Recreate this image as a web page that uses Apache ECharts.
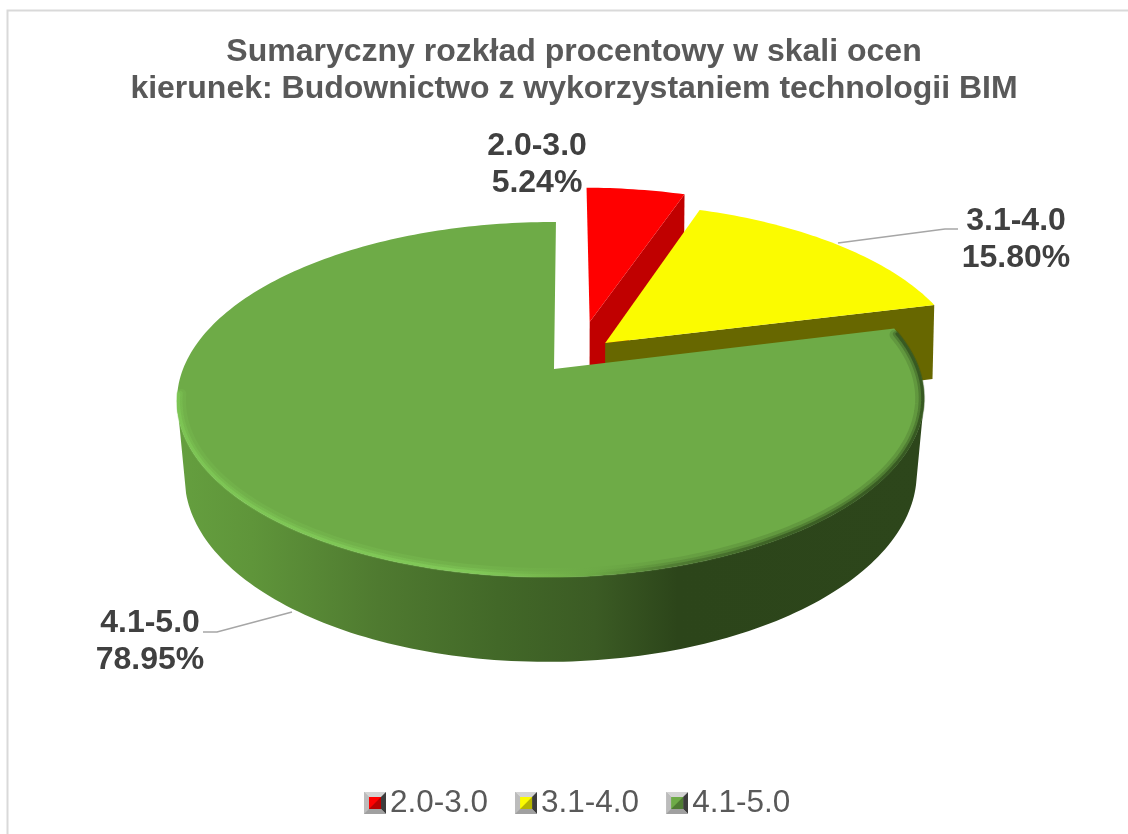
<!DOCTYPE html>
<html>
<head>
<meta charset="utf-8">
<script src="https://cdn.jsdelivr.net/npm/echarts@6/dist/echarts.min.js"></script>
<style>
  html, body { margin: 0; padding: 0; background: #fff; overflow: hidden; }
  #chart { width: 1128px; height: 834px; }
</style>
</head>
<body>
<div id="chart"></div>
<script>
var categories = ['2.0-3.0', '3.1-4.0', '4.1-5.0'];
var percents = [5.24, 15.80, 78.95];
var topColors = ['#ff0000', '#fbfb00', '#6eab47'];
var wallColors = ['#c00000', '#676700', '#4f7a30'];
var titleLines = ['Sumaryczny rozkład procentowy w skali ocen', 'kierunek: Budownictwo z wykorzystaniem technologii BIM'];

// perspective of the pie plane, fitted to the picture
var view = { x: 554, y: 369, a: 368, b: 172.3, shear: 2.3, k: 0.172, m: 0.008 };
var depth = [80, 80, 76];
var sink = [0.005, 0.005, 0.02];
// how far each slice is pulled out, in pie radii
var explode = [[0.1, 0.286], [0.142, 0.155], [0, 0]];
var labelPos = [[537, 165], [1016, 240], [150, 642]];
var leaders = [null, [[838, 243], [945, 229], [958, 229]], [[292, 612], [217, 632], [203, 632]]];

var total = percents.reduce(function (a, b) { return a + b; }, 0);

function rad(deg) {
    return deg * Math.PI / 180;
}

function project(i, px, pz, low) {
    var w = 1 + view.k * pz + view.m * px + (low ? sink[i] : 0);
    return [
        view.x + (view.a * px + view.shear * pz) / w,
        view.y + (-view.b * pz + (low ? depth[i] : 0)) / w
    ];
}

function rimPoint(i, ang, low) {
    return project(i, explode[i][0] + Math.sin(ang), explode[i][1] + Math.cos(ang), low);
}

function arcPoints(i, a0, a1, low) {
    var pts = [];
    var n = Math.max(2, Math.ceil(Math.abs(a1 - a0) / 0.02));
    for (var j = 0; j <= n; j++) {
        pts.push(rimPoint(i, a0 + (a1 - a0) * j / n, low));
    }
    return pts;
}

function sliceAngles(i) {
    var before = 0;
    for (var j = 0; j < i; j++) before += percents[j];
    return [before / total * Math.PI * 2, (before + percents[i]) / total * Math.PI * 2];
}

function gradient(stops) {
    return new echarts.graphic.LinearGradient(0, 0, 1, 0, stops.map(function (s) {
        return { offset: s[0], color: s[1] };
    }));
}

// stroke stops for the bevel: bright on the left and front, dark towards the right
var bevelStops = [
    [0, '#7fc956'], [0.4, '#84ce5b'], [0.5, '#76b74c'], [0.56, '#6aa644'],
    [0.66, '#4c7630'], [0.8, '#34541f'], [1, '#2d4a1b']
];
// width, opacity, inset of the layered strokes
var bevelLayers = [[10, 0.2, 4], [6, 0.35, 2.5], [3, 0.7, 1.5]];

function renderSlice(params, api) {
    var i = params.seriesIndex;
    var value = api.value(0);
    var ang = sliceAngles(i);
    var apexTop = project(i, explode[i][0], explode[i][1], false);
    var apexLow = project(i, explode[i][0], explode[i][1], true);
    var arc = arcPoints(i, ang[0], ang[1], false);
    var children = [];

    if (i < 2) {
        // cut wall on the clockwise side of the slice
        children.push({
            type: 'polygon',
            shape: { points: [apexTop, rimPoint(i, ang[1], false), rimPoint(i, ang[1], true), apexLow] },
            style: { fill: wallColors[i] }
        });
    } else {
        // outer wall of the big slice, from one silhouette point to the other
        children.push({
            type: 'polygon',
            shape: { points: arcPoints(i, rad(100), rad(260), false).concat(arcPoints(i, rad(255), rad(103), true)) },
            style: {
                fill: gradient([
                    [0, '#659f3f'], [0.1, '#5f953a'], [0.27, '#4f7a30'], [0.43, '#426828'],
                    [0.56, '#3b5b24'], [0.67, '#2c451a'], [1, '#2d461b']
                ])
            }
        });
    }

    children.push({
        type: 'polygon',
        shape: { points: [apexTop].concat(arc) },
        style: { fill: topColors[i] }
    });

    if (i === 2) {
        // soft bevel along the front of the top face
        bevelLayers.forEach(function (b) {
            var rim = arcPoints(i, ang[0] + 0.03, rad(262), false).map(function (p) {
                return [p[0] + (551 - p[0]) * b[2] / 374, p[1] + (400 - p[1]) * b[2] / 178];
            });
            children.push({
                type: 'polyline',
                shape: { points: rim },
                style: { fill: null, lineWidth: b[0], opacity: b[1], lineCap: 'round', stroke: gradient(bevelStops) }
            });
        });
    }

    if (leaders[i]) {
        children.push({
            type: 'polyline',
            shape: { points: leaders[i] },
            style: { fill: null, stroke: '#a6a6a6', lineWidth: 1.5 }
        });
    }

    children.push({
        type: 'text',
        style: {
            x: labelPos[i][0],
            y: labelPos[i][1],
            text: categories[i] + '\n' + value.toFixed(2) + '%',
            fill: '#404040',
            font: 'bold 32px "Liberation Sans", Arial, sans-serif',
            lineHeight: 37,
            align: 'center',
            verticalAlign: 'middle'
        }
    });

    return { type: 'group', children: children };
}

function legendIcon(color) {
    var svg = '<svg xmlns="http://www.w3.org/2000/svg" width="22" height="22">' +
        '<rect width="22" height="22" fill="#b8b8b8"/>' +
        '<polygon points="0,0 22,0 17,5 5,5" fill="#d4d4d4"/>' +
        '<polygon points="0,0 5,5 5,17 0,22" fill="#bcbcbc"/>' +
        '<polygon points="22,0 17,5 17,17 22,22" fill="#3c3c3c"/>' +
        '<polygon points="0,22 5,17 17,17 22,22" fill="#a0a0a0"/>' +
        '<rect x="5" y="5" width="12" height="12" fill="' + color + '"/>' +
        '<polygon points="17,5 17,17 5,17" fill="#000" fill-opacity="0.28"/>' +
        '</svg>';
    return 'image://data:image/svg+xml;charset=utf-8,' + encodeURIComponent(svg);
}

var chart = echarts.init(document.getElementById('chart'));
chart.setOption({
    animation: false,
    backgroundColor: '#ffffff',
    title: {
        text: titleLines.join('\n'),
        left: 569,
        textAlign: 'center',
        top: 29,
        textStyle: {
            color: '#595959',
            fontFamily: '"Liberation Sans", Arial, sans-serif',
            fontWeight: 'bold',
            fontSize: 32,
            lineHeight: 37
        }
    },
    legend: {
        left: 359,
        top: 782,
        itemWidth: 22,
        itemHeight: 22,
        itemGap: 27,
        data: categories.map(function (c, i) {
            return { name: c, icon: legendIcon(topColors[i]) };
        }),
        textStyle: {
            color: '#595959',
            fontFamily: '"Liberation Sans", Arial, sans-serif',
            fontSize: 31.5,
            padding: [0, 0, 0, -1]
        }
    },
    graphic: [{
        type: 'rect',
        silent: true,
        z: -1,
        shape: { x: 7.5, y: 10.5, width: 1140, height: 840 },
        style: { fill: null, stroke: '#d9d9d9', lineWidth: 2 }
    }],
    series: categories.map(function (c, i) {
        return {
            name: c,
            type: 'custom',
            coordinateSystem: 'none',
            silent: true,
            renderItem: renderSlice,
            data: [[percents[i]]],
            itemStyle: { color: topColors[i] }
        };
    })
});
</script>
</body>
</html>
